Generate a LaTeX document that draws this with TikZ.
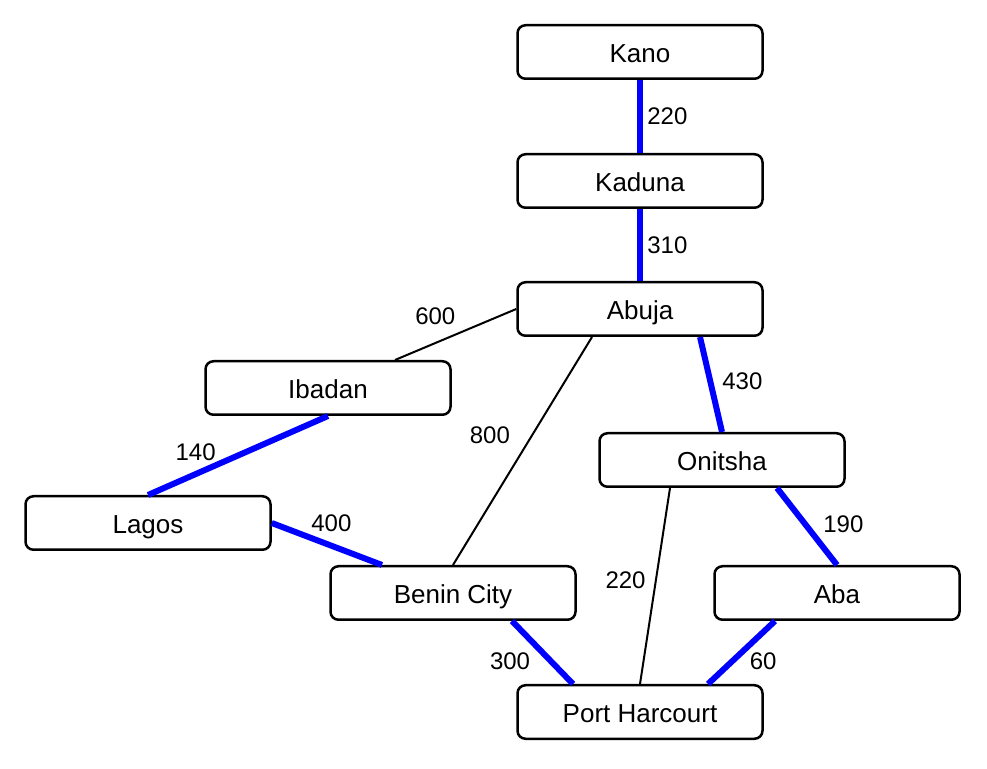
\documentclass[tikz,border=0pt]{standalone}
\usepackage{fontspec}
\setmainfont{Liberation Sans}
\usetikzlibrary{positioning}

\begin{document}
\begin{tikzpicture}[x=1pt, y=1pt]
	\tikzset{c/.style={draw=black, line width=2.5pt, rounded corners=8pt, minimum width=245pt, minimum height=53.5pt, text height=24pt, text depth=3.4pt, font=\fontsize{26}{30}\selectfont},
	r/.style={line width=2pt},
	m/.style={blue, line width=6pt},
	l/.style={font=\fontsize{24}{28}\selectfont, text=black}};

	\useasboundingbox (0,0) rectangle (987,768);

	\node[c] (kano) at (640,716) {Kano};
	\node[c] (kaduna) at (640,587) {Kaduna};
	\node[c] (abuja) at (640,459) {Abuja};
	\node[c] (ibadan) at (328,380) {Ibadan};
	\node[c] (onitsha) at (722,308) {Onitsha};
	\node[c] (lagos) at (148,245) {Lagos};
	\node[c] (benin) at (453,175) {Benin City};
	\node[c] (aba) at (837,175) {Aba};
	\node[c] (ph) at (640,56) {Port Harcourt};

	\draw[m] (kano.south) -- node[l, right=1pt] {220} (kaduna.north);
	\draw[m] (kaduna.south) -- node[l, right=1pt] {310} (abuja.north);
	\draw[r] (abuja.west) -- node[l, above left, xshift=4pt, yshift=5pt] {600} ([xshift=67pt]ibadan.north);
	\draw[r] ([xshift=-48pt]abuja.south) -- node[l, pos=0.43, left=18pt] {800} (benin.north);
	\draw[m] ([xshift=60pt]abuja.south) -- node[l, right=5pt, yshift=3pt] {430} (onitsha.north);
	\draw[m] (ibadan.south) -- node[l, pos=0.6, above left, xshift=2pt, yshift=-4pt] {140} (lagos.north);
	\draw[m] (lagos.east) -- node[l, pos=0.45, above=4pt, xshift=10pt] {400} ([xshift=-71pt]benin.north);
	\draw[r] ([xshift=-52pt]onitsha.south) -- node[l, pos=0.47, left=6pt] {220} (ph.north);
	\draw[m] ([xshift=55pt]onitsha.south) -- node[l, pos=0.45, right=13pt, yshift=-2pt] {190} (aba.north);
	\draw[m] ([xshift=59pt]benin.south) -- node[l, pos=0.4, below left] {300} ([xshift=-67pt]ph.north);
	\draw[m] ([xshift=-62pt]aba.south) -- node[l, pos=0.47, below right, yshift=4pt] {60} ([xshift=68pt]ph.north);
\end{tikzpicture}
\end{document}
